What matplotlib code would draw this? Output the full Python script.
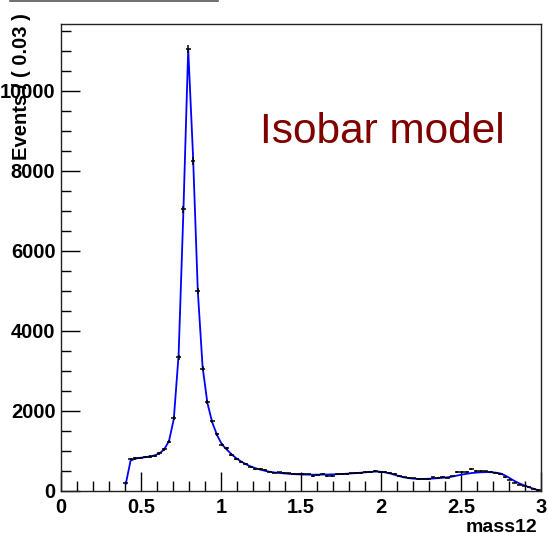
import numpy as np
import matplotlib.pyplot as plt
from matplotlib.lines import Line2D
from matplotlib.ticker import MultipleLocator

plt.rcParams['font.family'] = ['Liberation Sans', 'DejaVu Sans']

# bin centres (bin width 0.03), data counts and fitted model
mass12 = np.round(np.arange(0.405, 2.99, 0.03), 3)
events = [190, 800, 815, 830, 850, 860, 880, 940, 1040, 1230,
          1820, 3340, 7040, 11050, 8250, 5000, 3060, 2220, 1740, 1420,
          1160, 1067, 910, 795, 720, 665, 600, 560, 545, 530,
          485, 462, 465, 445, 440, 428, 425, 420, 415, 380,
          410, 420, 380, 380, 415, 420, 425, 440, 445, 440,
          470, 475, 510, 470, 480, 450, 420, 380, 340, 320,
          315, 290, 305, 300, 340, 330, 350, 335, 365, 480,
          470, 480, 540, 510, 500, 490, 470, 460, 420, 340,
          280, 210, 160, 130, 100, 60, 20]
model = [180, 760, 810, 830, 845, 865, 890, 940, 1040, 1250,
         1800, 3400, 7000, 11050, 8400, 5000, 3100, 2200, 1720, 1400,
         1170, 1040, 920, 820, 740, 670, 615, 570, 535, 505,
         480, 462, 450, 440, 430, 422, 416, 412, 410, 408,
         408, 410, 412, 415, 420, 425, 432, 440, 448, 458,
         468, 478, 485, 482, 465, 440, 405, 370, 340, 320,
         308, 302, 302, 305, 312, 320, 330, 342, 360, 385,
         410, 430, 448, 460, 468, 472, 470, 460, 440, 390,
         320, 250, 190, 140, 95, 55, 15]

events = np.array(events, dtype=float)
model = np.array(model, dtype=float)

fig = plt.figure(figsize=(5.48, 5.33), dpi=100)
ax = fig.add_axes([61 / 548, 42 / 533, 480 / 548, 467 / 533])

ax.plot(mass12, model, color='#0000ff', lw=1.3, zorder=2)
ax.errorbar(mass12, events, xerr=0.015, yerr=np.sqrt(events),
            fmt='none', ecolor='black', elinewidth=1.1, capsize=0, zorder=3)

ax.set_xlim(0, 3)
ax.set_ylim(0, 11675)
ax.xaxis.set_major_locator(MultipleLocator(0.5))
ax.xaxis.set_minor_locator(MultipleLocator(0.1))
ax.yaxis.set_major_locator(MultipleLocator(2000))
ax.yaxis.set_minor_locator(MultipleLocator(500))
ax.set_xticks([0, 0.5, 1, 1.5, 2, 2.5, 3])
ax.set_xticklabels(['0', '0.5', '1', '1.5', '2', '2.5', '3'])

ax.tick_params(which='both', direction='in', top=False, right=False,
               labelsize=14.5, width=1.0)
ax.tick_params(which='major', length=14)
ax.tick_params(which='minor', length=7)
ax.tick_params(axis='x', pad=5)
ax.tick_params(axis='y', pad=4)
for lab in ax.get_xticklabels() + ax.get_yticklabels():
    lab.set_fontweight('bold')
for sp in ax.spines.values():
    sp.set_linewidth(1.0)
    sp.set_color('#222222')

fig.text(537 / 548, 1 - 527 / 533, 'mass12', ha='right', va='center',
         fontsize=14, fontweight='bold')
fig.text(22 / 548, 1 - 13 / 533, 'Events / ( 0.03 )', rotation=90,
         ha='center', va='top', fontsize=14.5, fontweight='bold')
ax.text(0.415, 0.745, 'Isobar model', transform=ax.transAxes,
        fontsize=30.5, color='#800000', ha='left', va='baseline')

fig.add_artist(Line2D([10 / 548, 218 / 548], [1 - 1 / 533, 1 - 1 / 533],
                      transform=fig.transFigure, color='#555555', lw=1.2))

fig.savefig('out.png', dpi=100)
